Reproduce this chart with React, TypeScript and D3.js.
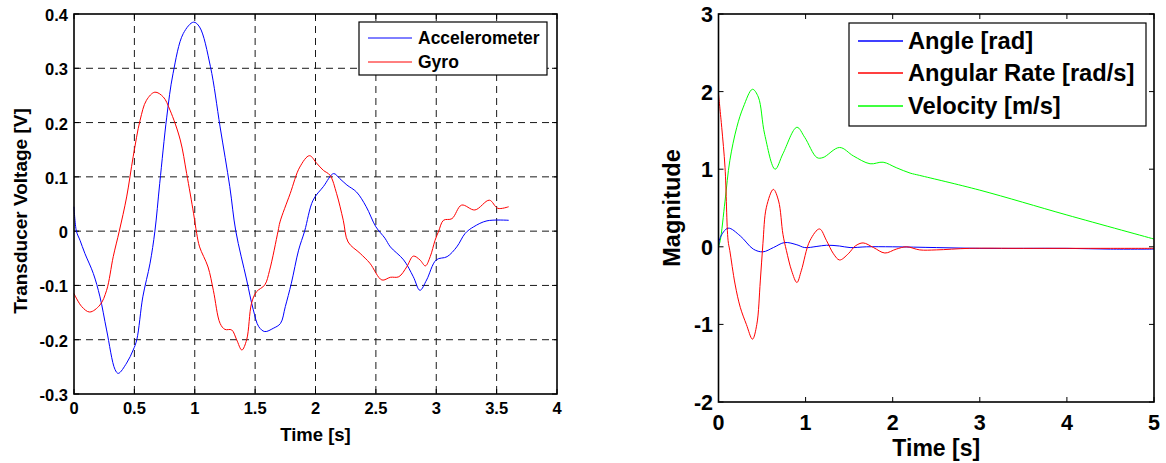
import React from "react";
import * as d3 from "d3";

// ---------- Left chart data ----------
const accelT = [0, 0.02, 0.05, 0.09, 0.16, 0.215, 0.27, 0.34, 0.367, 0.436, 0.49, 0.52, 0.57, 0.63, 0.67, 0.71, 0.768, 0.82, 0.905, 0.99, 1.04, 1.13, 1.21, 1.29, 1.34, 1.43, 1.485, 1.53, 1.58, 1.65, 1.71, 1.75, 1.8, 1.86, 1.91, 1.98, 2.065, 2.15, 2.2, 2.26, 2.34, 2.42, 2.5, 2.575, 2.62, 2.73, 2.81, 2.865, 2.92, 3.0, 3.09, 3.17, 3.24, 3.31, 3.42, 3.6];
const accelV = [0.045, 0.0, -0.017, -0.041, -0.078, -0.121, -0.182, -0.255, -0.262, -0.243, -0.219, -0.2, -0.121, -0.059, 0.0, 0.088, 0.21, 0.29, 0.364, 0.385, 0.376, 0.303, 0.192, 0.082, 0.0, -0.09, -0.145, -0.176, -0.185, -0.179, -0.17, -0.139, -0.096, -0.035, 0.0, 0.057, 0.082, 0.106, 0.097, 0.085, 0.072, 0.045, 0.008, -0.013, -0.029, -0.053, -0.084, -0.109, -0.09, -0.053, -0.047, -0.029, -0.004, 0.008, 0.019, 0.02];
const gyroT = [0, 0.064, 0.13, 0.215, 0.27, 0.325, 0.375, 0.436, 0.49, 0.547, 0.6, 0.67, 0.74, 0.795, 0.88, 0.933, 0.99, 1.016, 1.04, 1.11, 1.154, 1.21, 1.25, 1.306, 1.347, 1.39, 1.43, 1.47, 1.51, 1.58, 1.62, 1.69, 1.706, 1.79, 1.87, 1.95, 2.01, 2.065, 2.12, 2.175, 2.23, 2.27, 2.37, 2.45, 2.55, 2.62, 2.69, 2.755, 2.81, 2.865, 2.91, 2.95, 2.99, 3.02, 3.06, 3.13, 3.21, 3.32, 3.44, 3.51, 3.6];
const gyroV = [-0.115, -0.139, -0.149, -0.136, -0.109, -0.047, 0.0, 0.063, 0.137, 0.204, 0.241, 0.256, 0.247, 0.223, 0.168, 0.106, 0.033, -0.004, -0.029, -0.066, -0.109, -0.17, -0.181, -0.182, -0.2, -0.219, -0.2, -0.133, -0.112, -0.099, -0.072, 0.0, 0.017, 0.069, 0.118, 0.139, 0.125, 0.112, 0.103, 0.069, 0.02, -0.02, -0.041, -0.059, -0.09, -0.085, -0.084, -0.066, -0.046, -0.053, -0.064, -0.047, -0.017, 0.0, 0.02, 0.023, 0.048, 0.039, 0.057, 0.042, 0.045];

const leftXTicks = [0, 0.5, 1, 1.5, 2, 2.5, 3, 3.5, 4];
const leftXTickLabels = ["0", "0.5", "1", "1.5", "2", "2.5", "3", "3.5", "4"];
const leftYTicks = [-0.3, -0.2, -0.1, 0, 0.1, 0.2, 0.3, 0.4];
const leftYTickLabels = ["-0.3", "-0.2", "-0.1", "0", "0.1", "0.2", "0.3", "0.4"];
const leftSeries = ["Accelerometer", "Gyro"];

// ---------- Right chart data ----------
const velT = [0, 0.02, 0.075, 0.13, 0.21, 0.285, 0.39, 0.457, 0.53, 0.65, 0.74, 0.9, 0.99, 1.13, 1.2, 1.39, 1.55, 1.74, 1.89, 2.04, 2.2, 2.31, 3.0, 4.0, 5.0];
const velV = [0, 0.08, 0.59, 1.11, 1.54, 1.8, 2.03, 1.93, 1.45, 1.0, 1.2, 1.54, 1.41, 1.15, 1.15, 1.28, 1.17, 1.07, 1.09, 1.02, 0.95, 0.92, 0.73, 0.41, 0.1];
const angleT = [0, 0.02, 0.11, 0.25, 0.4, 0.51, 0.63, 0.76, 0.9, 0.99, 1.13, 1.24, 1.39, 1.51, 1.7, 2.0, 2.5, 3.0, 3.5, 4.0, 4.5, 5.0];
const angleV = [0, 0.12, 0.24, 0.14, -0.03, -0.065, -0.01, 0.055, 0.026, -0.01, 0.005, 0.02, 0.01, -0.01, 0.0, 0.0, -0.01, -0.02, -0.02, -0.02, -0.03, -0.03];
const rateT = [0, 0.037, 0.075, 0.11, 0.13, 0.19, 0.25, 0.32, 0.39, 0.44, 0.48, 0.51, 0.55, 0.63, 0.69, 0.74, 0.78, 0.84, 0.9, 0.95, 1.05, 1.16, 1.24, 1.32, 1.39, 1.49, 1.57, 1.66, 1.78, 1.91, 2.04, 2.16, 2.31, 2.5, 2.88, 3.5, 4.5, 5.0];
const rateV = [1.97, 1.54, 1.02, 0.08, -0.05, -0.48, -0.78, -1.0, -1.19, -1.0, -0.44, 0.04, 0.51, 0.74, 0.59, 0.16, -0.05, -0.31, -0.46, -0.31, 0.08, 0.23, 0.08, -0.09, -0.17, -0.09, 0.01, 0.05, -0.01, -0.08, -0.03, 0.0, -0.04, -0.04, -0.02, -0.02, -0.02, -0.02];

const rightXTicks = [0, 1, 2, 3, 4, 5];
const rightXTickLabels = ["0", "1", "2", "3", "4", "5"];
const rightYTicks = [-2, -1, 0, 1, 2, 3];
const rightYTickLabels = ["-2", "-1", "0", "1", "2", "3"];
const rightSeries = ["Angle [rad]", "Angular Rate [rad/s]", "Velocity [m/s]"];

const FONT = "'Liberation Sans', Arial, Helvetica, sans-serif";

function zip(t: number[], v: number[]): [number, number][] {
  return t.map((x, i) => [x, v[i]]);
}

export default function App() {
  const xL = d3.scaleLinear().domain([0, 4]).range([74, 557]);
  const yL = d3.scaleLinear().domain([-0.3, 0.4]).range([394, 14]);
  const xR = d3.scaleLinear().domain([0, 5]).range([718.5, 1154]);
  const yR = d3.scaleLinear().domain([-2, 3]).range([402, 14]);

  const lineL = d3
    .line<[number, number]>()
    .x((d) => xL(d[0]))
    .y((d) => yL(d[1]))
    .curve(d3.curveCatmullRom.alpha(0.5));
  const lineR = d3
    .line<[number, number]>()
    .x((d) => xR(d[0]))
    .y((d) => yR(d[1]))
    .curve(d3.curveCatmullRom.alpha(0.5));

  const leftColors = ["#0000ff", "#ff0000"];
  const rightColors = ["#0000ff", "#ff0000", "#00ff00"];

  const [lx0, lx1] = xL.range();
  const [ly0, ly1] = yL.range();
  const [rx0, rx1] = xR.range();
  const [ry0, ry1] = yR.range();
  const tick = 5;

  return (
    <svg
      width={1166}
      height={463}
      style={{ position: "absolute", left: 0, top: 0, background: "#fff" }}
      fontFamily={FONT}
      fontWeight="bold"
    >
      <rect x={0} y={0} width={1166} height={463} fill="#fff" />

      {/* ===== Left chart ===== */}
      <g>
        {leftXTicks.slice(1, -1).map((t) => (
          <line key={"lgx" + t} x1={xL(t)} x2={xL(t)} y1={ly1} y2={ly0} stroke="#1a1a1a" strokeWidth={1} strokeDasharray="7,5" />
        ))}
        {leftYTicks.slice(1, -1).map((t) => (
          <line key={"lgy" + t} x1={lx0} x2={lx1} y1={yL(t)} y2={yL(t)} stroke="#1a1a1a" strokeWidth={1} strokeDasharray="7,5" />
        ))}
        {leftXTicks.map((t) => (
          <g key={"ltx" + t}>
            <line x1={xL(t)} x2={xL(t)} y1={ly0} y2={ly0 - tick} stroke="#000" />
            <line x1={xL(t)} x2={xL(t)} y1={ly1} y2={ly1 + tick} stroke="#000" />
          </g>
        ))}
        {leftYTicks.map((t) => (
          <g key={"lty" + t}>
            <line x1={lx0} x2={lx0 + tick} y1={yL(t)} y2={yL(t)} stroke="#000" />
            <line x1={lx1} x2={lx1 - tick} y1={yL(t)} y2={yL(t)} stroke="#000" />
          </g>
        ))}
        <path d={lineL(zip(accelT, accelV)) || ""} fill="none" stroke={leftColors[0]} strokeWidth={1} />
        <path d={lineL(zip(gyroT, gyroV)) || ""} fill="none" stroke={leftColors[1]} strokeWidth={1} />
        <rect x={lx0} y={ly1} width={lx1 - lx0} height={ly0 - ly1} fill="none" stroke="#000" strokeWidth={1.6} />
        {leftXTicks.map((t, i) => (
          <text key={"lxl" + t} x={xL(t)} y={414} fontSize={16.5} textAnchor="middle">
            {leftXTickLabels[i]}
          </text>
        ))}
        {leftYTicks.map((t, i) => (
          <text key={"lyl" + t} x={68} y={yL(t) + 1} fontSize={16.5} textAnchor="end" dominantBaseline="central">
            {leftYTickLabels[i]}
          </text>
        ))}
        <text x={(lx0 + lx1) / 2} y={441} fontSize={18.5} textAnchor="middle">
          Time [s]
        </text>
        <text transform={`translate(27,211) rotate(-90)`} fontSize={19} textAnchor="middle">
          Transducer Voltage [V]
        </text>
        <rect x={359} y={22} width={188} height={53} fill="#fff" stroke="#000" strokeWidth={1.2} />
        {leftSeries.map((s, i) => (
          <g key={s}>
            <line x1={368} x2={412} y1={38 + i * 24} y2={38 + i * 24} stroke={leftColors[i]} strokeWidth={1} />
            <text x={418} y={38 + i * 24} fontSize={17.5} dominantBaseline="central">
              {s}
            </text>
          </g>
        ))}
      </g>

      {/* ===== Right chart ===== */}
      <g>
        {rightXTicks.map((t) => (
          <g key={"rtx" + t}>
            <line x1={xR(t)} x2={xR(t)} y1={ry0} y2={ry0 - tick} stroke="#000" />
            <line x1={xR(t)} x2={xR(t)} y1={ry1} y2={ry1 + tick} stroke="#000" />
          </g>
        ))}
        {rightYTicks.map((t) => (
          <g key={"rty" + t}>
            <line x1={rx0} x2={rx0 + tick} y1={yR(t)} y2={yR(t)} stroke="#000" />
            <line x1={rx1} x2={rx1 - tick} y1={yR(t)} y2={yR(t)} stroke="#000" />
          </g>
        ))}
        <path d={lineR(zip(velT, velV)) || ""} fill="none" stroke={rightColors[2]} strokeWidth={1} />
        <path d={lineR(zip(angleT, angleV)) || ""} fill="none" stroke={rightColors[0]} strokeWidth={1} />
        <path d={lineR(zip(rateT, rateV)) || ""} fill="none" stroke={rightColors[1]} strokeWidth={1} />
        <rect x={rx0} y={ry1} width={rx1 - rx0} height={ry0 - ry1} fill="none" stroke="#000" strokeWidth={1.6} />
        {rightXTicks.map((t, i) => (
          <text key={"rxl" + t} x={xR(t)} y={430} fontSize={21.5} textAnchor="middle">
            {rightXTickLabels[i]}
          </text>
        ))}
        {rightYTicks.map((t, i) => (
          <text key={"ryl" + t} x={713} y={yR(t) + 1} fontSize={21.5} textAnchor="end" dominantBaseline="central">
            {rightYTickLabels[i]}
          </text>
        ))}
        <text x={(rx0 + rx1) / 2} y={456} fontSize={23} textAnchor="middle">
          Time [s]
        </text>
        <text transform={`translate(680,${(ry0 + ry1) / 2}) rotate(-90)`} fontSize={23.5} textAnchor="middle">
          Magnitude
        </text>
        <rect x={849} y={23} width={297} height={103} fill="#fff" stroke="#000" strokeWidth={1.2} />
        {rightSeries.map((s, i) => {
          const ry = Math.floor(41 + i * 32.5);
          return (
            <g key={s}>
              <path d={`M858,${ry}H903`} fill="none" stroke={rightColors[i]} strokeWidth={1.5} />
              <text x={908} y={ry} fontSize={23.7} dominantBaseline="central">
                {s}
              </text>
            </g>
          );
        })}
      </g>
    </svg>
  );
}
